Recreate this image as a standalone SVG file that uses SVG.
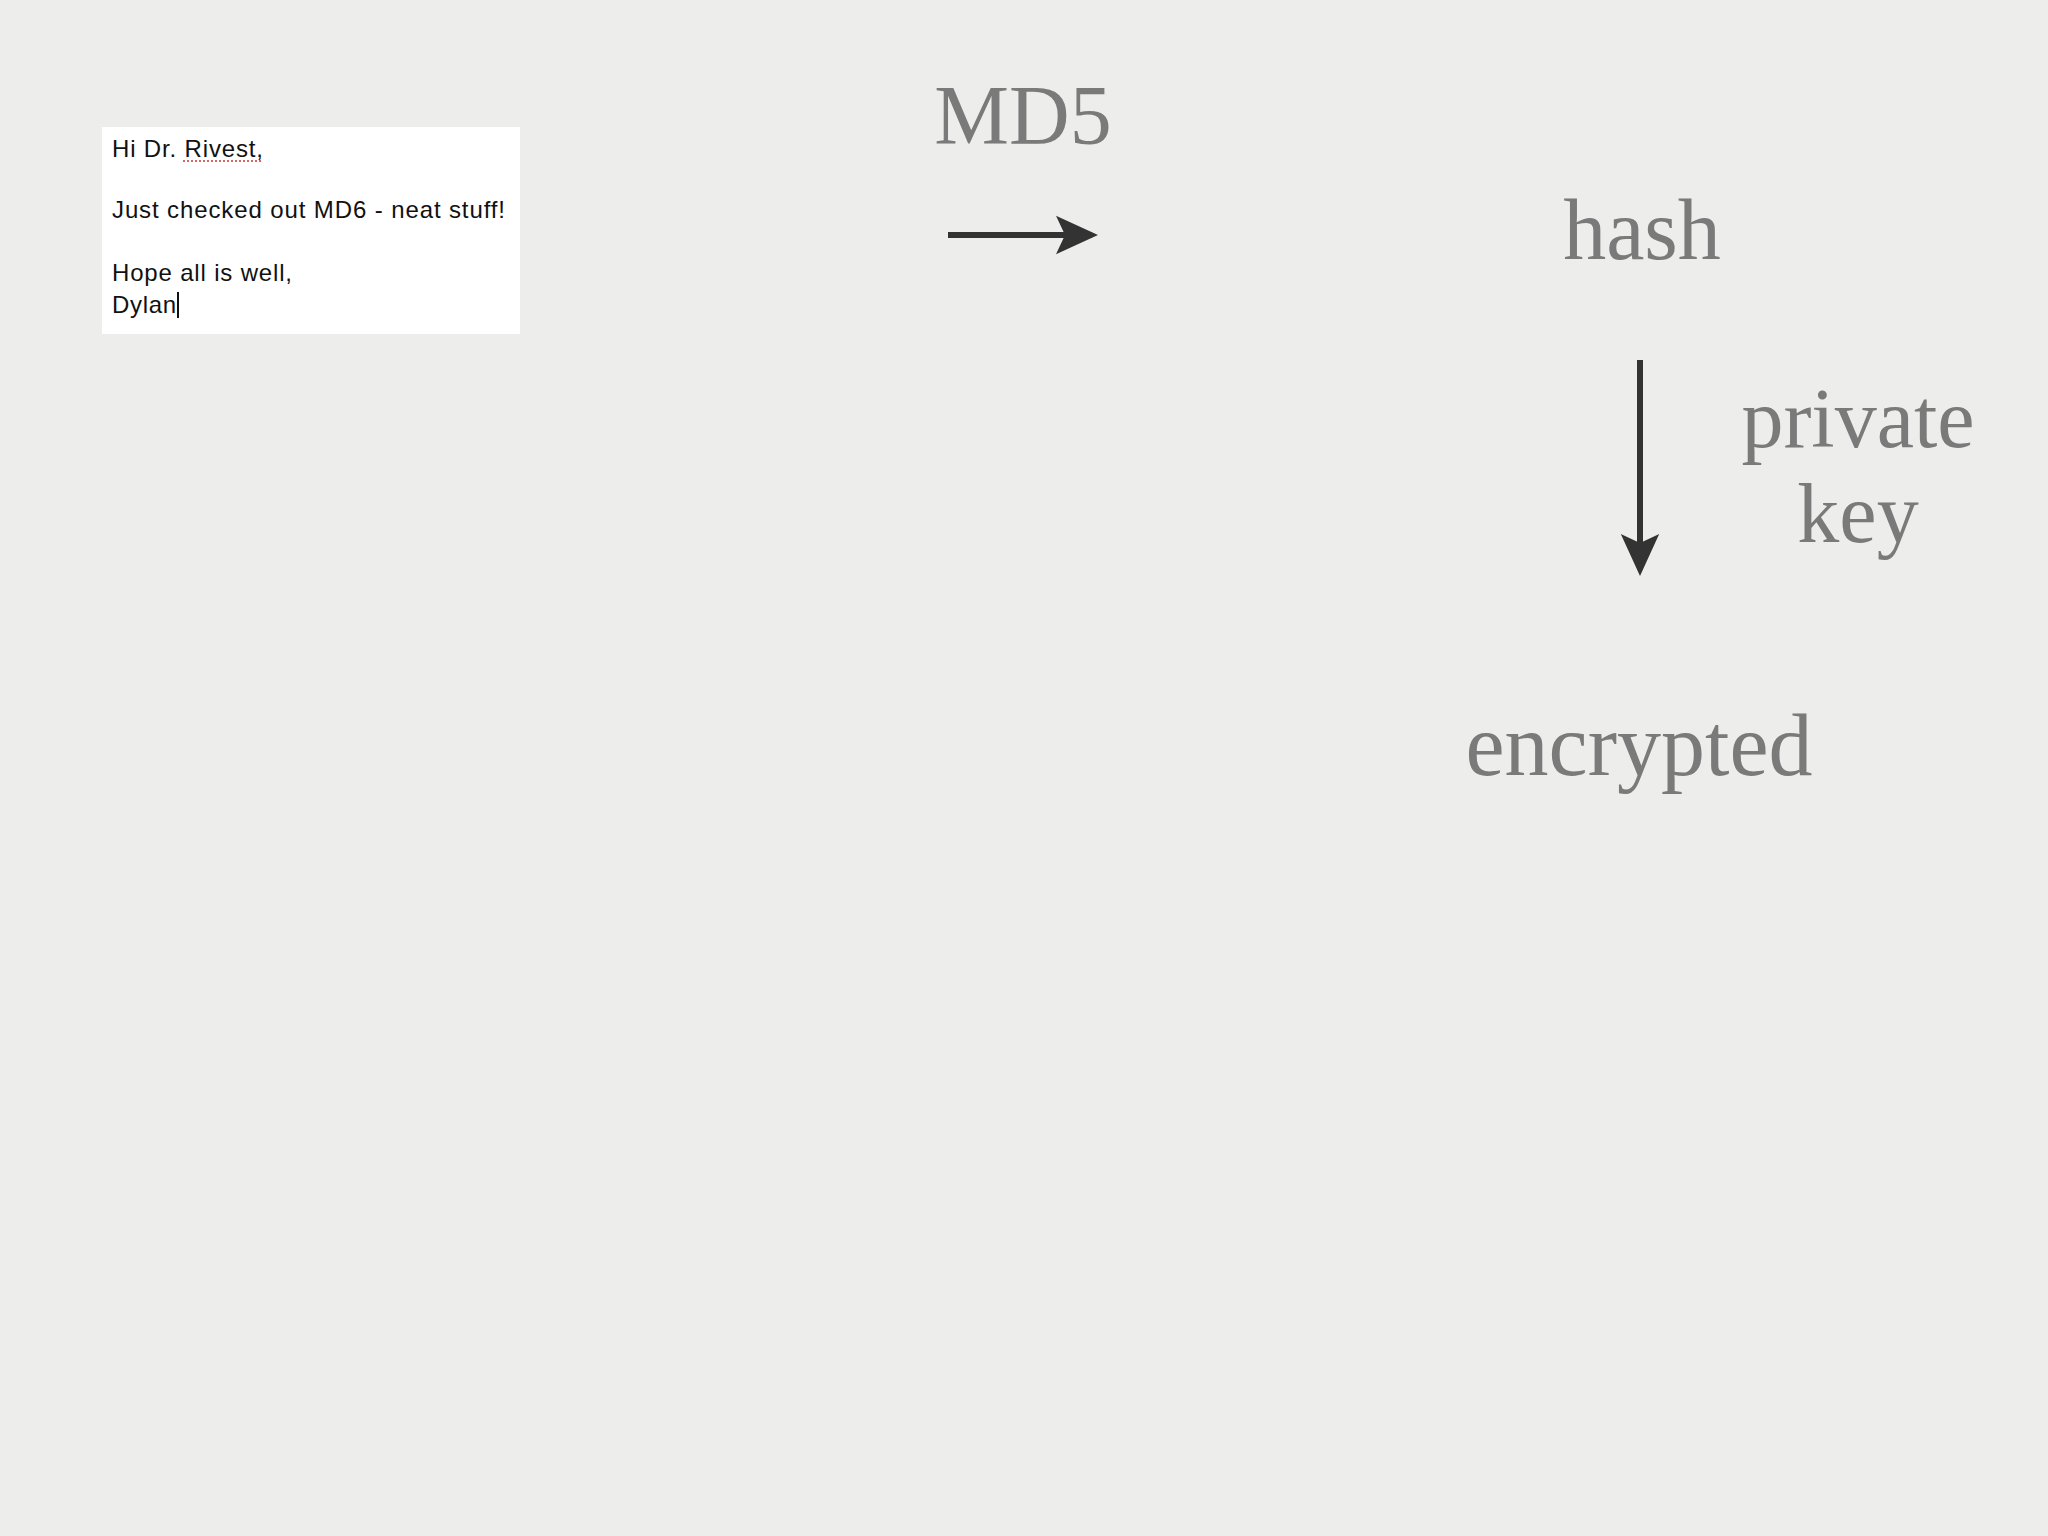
<svg xmlns="http://www.w3.org/2000/svg" width="2048" height="1536" viewBox="0 0 2048 1536">
<style>
.lbl{font-family:"Liberation Serif",serif;fill:#7a7a7a;text-anchor:middle}
.em{font-family:"Liberation Sans",Arial,sans-serif;font-size:24px;fill:#111}
.conn{stroke:#333;stroke-width:6;fill:none}
</style>
<defs>
<marker id="ah" markerWidth="8" markerHeight="8" refX="6" refY="4" orient="auto" markerUnits="strokeWidth">
<path d="M0,0.8 L7,4 L0,7.2 L1.5,4 Z" fill="#333"/>
</marker>
</defs>
<rect width="2048" height="1536" fill="#ededeb"/>
<g id="email">
<rect x="102" y="127" width="418" height="207" fill="#fff"/>
<text class="em" x="112" y="157" textLength="151">Hi Dr. Rivest,</text>
<path d="M183,161 H262" stroke="#c33" stroke-width="1.5" stroke-dasharray="2,2"/>
<text class="em" x="112" y="218" textLength="393">Just checked out MD6 - neat stuff!</text>
<text class="em" x="112" y="281" textLength="180">Hope all is well,</text>
<text class="em" x="112" y="313" textLength="64">Dylan</text>
<line x1="178" y1="292" x2="178" y2="318" stroke="#111" stroke-width="2"/>
</g>
<g id="md5"><text class="lbl" x="1023" y="144" font-size="84">MD5</text></g>
<g id="hash"><text class="lbl" x="1642" y="259" font-size="86">hash</text></g>
<g id="privatekey"><text class="lbl" x="1858" y="447" font-size="84">private</text><text class="lbl" x="1858" y="542" font-size="84">key</text></g>
<g id="encrypted"><text class="lbl" x="1639" y="775" font-size="88">encrypted</text></g>
<g id="connectors">
<line class="conn" x1="948" y1="235" x2="1092" y2="235" marker-end="url(#ah)"/>
<line class="conn" x1="1640" y1="360" x2="1640" y2="570" marker-end="url(#ah)"/>
</g>
</svg>
